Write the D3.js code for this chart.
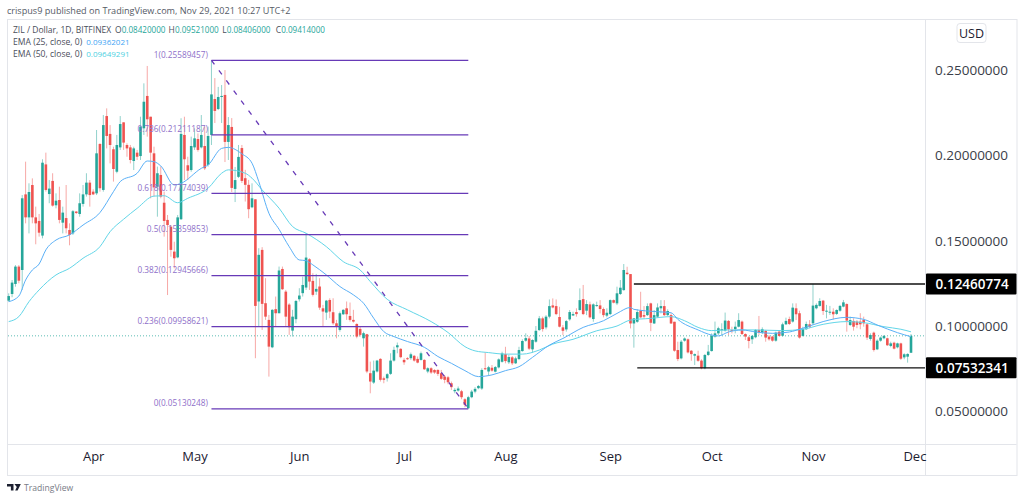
<!DOCTYPE html>
<html><head><meta charset="utf-8">
<script src="https://d3js.org/d3.v7.min.js"></script>
<style>html,body{margin:0;padding:0;background:#fff;overflow:hidden}svg{display:block}
text{font-family:"Open Sans",sans-serif}</style></head><body><svg id="c" width="1024" height="500"></svg>
<script>
const firstDay = "2021-03-07";
const opens = [
0.1148,0.1187,0.1246,0.1348,0.1328,0.1772,0.1637,0.1827,0.1637,0.1616,
0.1530,0.1948,0.1774,0.1851,0.1708,0.1739,0.1606,0.1633,0.1563,0.1543,
0.1671,0.1657,0.1716,0.1772,0.1841,0.1788,0.1778,0.2068,0.1798,0.2232,
0.2127,0.2037,0.1905,0.2048,0.2195,0.2062,0.2048,0.1968,0.2017,0.1997,
0.2160,0.2350,0.2228,0.2013,0.1817,0.1886,0.1723,0.1622,0.1582,0.1436,
0.1402,0.1626,0.2121,0.1943,0.1915,0.2048,0.2097,0.2048,0.2056,0.1945,
0.2121,0.2332,0.2273,0.2344,0.2356,0.2080,0.2168,0.1804,0.1875,0.2044,
0.1867,0.1828,0.1696,0.1743,0.1143,0.1446,0.1133,0.1035,0.0874,0.1098,
0.1074,0.1334,0.1201,0.1125,0.0972,0.1039,0.1156,0.1192,0.1225,0.1391,
0.1264,0.1201,0.1231,0.1103,0.1078,0.1152,0.1080,0.1015,0.0976,0.1068,
0.1103,0.1058,0.1035,0.1011,0.0982,0.0927,0.0951,0.0722,0.0667,0.0732,
0.0806,0.0692,0.0692,0.0718,0.0796,0.0874,0.0865,0.0800,0.0810,0.0810,
0.0824,0.0806,0.0800,0.0800,0.0732,0.0751,0.0741,0.0741,0.0722,0.0702,
0.0698,0.0663,0.0616,0.0620,0.0616,0.0569,0.0516,0.0581,0.0614,0.0634,
0.0632,0.0751,0.0732,0.0754,0.0731,0.0756,0.0789,0.0834,0.0786,0.0815,
0.0780,0.0805,0.0852,0.0913,0.0926,0.0862,0.0907,0.0975,0.1044,0.0991,
0.1054,0.1120,0.1116,0.1052,0.0991,0.0979,0.1038,0.1061,0.1081,0.1093,
0.1157,0.1089,0.1126,0.1040,0.1118,0.1120,0.1099,0.1060,0.1069,0.1151,
0.1132,0.1187,0.1210,0.1312,0.1304,0.1014,0.1024,0.1089,0.1063,0.1063,
0.1132,0.1014,0.1054,0.1103,0.1116,0.1063,0.1063,0.1024,0.0858,0.0809,
0.0913,0.0921,0.0854,0.0825,0.0825,0.0796,0.0751,0.0829,0.0852,0.0937,
0.0956,0.0976,0.0972,0.1029,0.0976,0.0980,0.0995,0.1025,0.0952,0.0933,
0.0921,0.0933,0.0976,0.0960,0.0970,0.0937,0.0937,0.0913,0.0966,0.0942,
0.1009,0.1040,0.1025,0.1103,0.1074,0.0941,0.0980,0.1009,0.1015,0.1103,
0.1117,0.1148,0.1083,0.1079,0.1083,0.1070,0.1089,0.1113,0.1128,0.1005,
0.1029,0.1025,0.1025,0.1034,0.1009,0.0923,0.0960,0.0862,0.0913,0.0927,
0.0927,0.0882,0.0901,0.0874,0.0897,0.0815,0.0819,0.0842];
const closes = [
0.1175,0.1254,0.1348,0.1265,0.1749,0.1637,0.1786,0.1637,0.1602,0.1547,
0.1958,0.1798,0.1806,0.1706,0.1735,0.1622,0.1665,0.1573,0.1534,0.1673,
0.1663,0.1720,0.1772,0.1841,0.1768,0.1772,0.2013,0.1808,0.2179,0.2115,
0.2062,0.1921,0.2062,0.2185,0.2076,0.2042,0.1974,0.2042,0.1993,0.2170,
0.2316,0.2213,0.2017,0.1813,0.1896,0.1759,0.1616,0.1592,0.1446,0.1397,
0.1637,0.2127,0.1978,0.1911,0.2056,0.2101,0.2033,0.2121,0.1925,0.2115,
0.2359,0.2262,0.2344,0.2350,0.2080,0.2179,0.1810,0.1856,0.1992,0.1851,
0.1828,0.1685,0.1749,0.1117,0.1417,0.1129,0.1054,0.0878,0.1094,0.1074,
0.1325,0.1215,0.1054,0.0992,0.1054,0.1146,0.1178,0.1240,0.1401,0.1260,
0.1182,0.1217,0.1107,0.1084,0.1148,0.1084,0.1015,0.0996,0.1074,0.1094,
0.1068,0.1035,0.1025,0.0937,0.0947,0.0957,0.0732,0.0673,0.0737,0.0796,
0.0683,0.0683,0.0716,0.0796,0.0859,0.0886,0.0816,0.0786,0.0804,0.0833,
0.0796,0.0784,0.0839,0.0745,0.0751,0.0726,0.0726,0.0718,0.0689,0.0683,
0.0669,0.0640,0.0624,0.0632,0.0581,0.0536,0.0581,0.0614,0.0630,0.0647,
0.0741,0.0747,0.0757,0.0737,0.0758,0.0803,0.0838,0.0793,0.0817,0.0780,
0.0809,0.0858,0.0911,0.0928,0.0866,0.0917,0.0971,0.1044,0.0981,0.1054,
0.1116,0.1108,0.1069,0.0995,0.0971,0.1028,0.1081,0.1069,0.1069,0.1151,
0.1069,0.1128,0.1050,0.1126,0.1122,0.1099,0.1063,0.1077,0.1151,0.1136,
0.1191,0.1224,0.1328,0.1304,0.1014,0.1044,0.1081,0.1050,0.1054,0.1116,
0.1018,0.1063,0.1108,0.1116,0.1063,0.1087,0.1014,0.0854,0.0805,0.0907,
0.0926,0.0844,0.0834,0.0834,0.0795,0.0751,0.0829,0.0849,0.0942,0.0956,
0.0986,0.0980,0.1031,0.0980,0.0970,0.0995,0.1034,0.0952,0.0937,0.0911,
0.0941,0.0976,0.0960,0.0980,0.0931,0.0921,0.0913,0.0960,0.0941,0.1009,
0.1029,0.1011,0.1107,0.1068,0.0931,0.0982,0.1011,0.0995,0.1119,0.1123,
0.1146,0.1087,0.1089,0.1083,0.1068,0.1093,0.1117,0.1138,0.1031,0.1034,
0.0995,0.1005,0.1009,0.1015,0.0931,0.0946,0.0858,0.0913,0.0931,0.0941,
0.0886,0.0897,0.0866,0.0897,0.0807,0.0833,0.0835,0.09414];
const highs = [
0.1191,0.1269,0.1357,0.1357,0.1768,0.1964,0.1837,0.1866,0.1700,0.1657,
0.1978,0.2017,0.1856,0.1896,0.1778,0.1817,0.1700,0.1827,0.1602,0.1680,
0.1674,0.1778,0.1827,0.1896,0.1856,0.1802,0.2150,0.2072,0.2238,0.2277,
0.2179,0.2052,0.2121,0.2232,0.2195,0.2072,0.2062,0.2052,0.2033,0.2228,
0.2424,0.2526,0.2228,0.2052,0.1935,0.1935,0.1788,0.1651,0.1592,0.1494,
0.1651,0.2219,0.2228,0.1993,0.2111,0.2160,0.2130,0.2238,0.2170,0.2170,
0.2559,0.2455,0.2403,0.2414,0.2502,0.2226,0.2220,0.1933,0.2062,0.2062,
0.1916,0.1857,0.1837,0.1743,0.1456,0.1462,0.1280,0.1064,0.1098,0.1172,
0.1348,0.1348,0.1211,0.1133,0.1094,0.1152,0.1221,0.1289,0.1544,0.1397,
0.1309,0.1305,0.1280,0.1123,0.1152,0.1162,0.1162,0.1035,0.1084,0.1098,
0.1143,0.1137,0.1094,0.1015,0.0996,0.0966,0.0953,0.0790,0.0796,0.0800,
0.0810,0.0702,0.0722,0.0839,0.0878,0.0902,0.0869,0.0810,0.0816,0.0843,
0.0829,0.0820,0.0849,0.0804,0.0757,0.0757,0.0745,0.0745,0.0741,0.0712,
0.0706,0.0673,0.0634,0.0644,0.0624,0.0575,0.0589,0.0624,0.0640,0.0653,
0.0751,0.0845,0.0765,0.0770,0.0764,0.0809,0.0848,0.0877,0.0829,0.0823,
0.0819,0.0877,0.0921,0.0956,0.0940,0.0921,0.0999,0.1058,0.1054,0.1063,
0.1155,0.1161,0.1155,0.1112,0.1005,0.1034,0.1093,0.1083,0.1103,0.1220,
0.1240,0.1151,0.1142,0.1132,0.1142,0.1151,0.1108,0.1103,0.1155,0.1155,
0.1230,0.1269,0.1363,0.1347,0.1304,0.1044,0.1097,0.1200,0.1116,0.1132,
0.1136,0.1093,0.1132,0.1151,0.1151,0.1097,0.1073,0.1024,0.0907,0.0917,
0.0932,0.0926,0.0858,0.0838,0.0854,0.0804,0.0835,0.0888,0.0956,0.1025,
0.0995,0.1015,0.1078,0.1034,0.0995,0.1025,0.1074,0.1031,0.0956,0.0941,
0.0946,0.0980,0.1058,0.0991,0.0976,0.0946,0.0941,0.0966,0.0972,0.1019,
0.1048,0.1054,0.1132,0.1132,0.1089,0.0995,0.1025,0.1034,0.1246,0.1132,
0.1162,0.1152,0.1123,0.1117,0.1103,0.1097,0.1123,0.1152,0.1132,0.1054,
0.1044,0.1034,0.1074,0.1054,0.1015,0.0956,0.0966,0.0921,0.0937,0.0946,
0.0931,0.0907,0.0907,0.0901,0.0901,0.0839,0.0839,0.09521];
const lows = [
0.1142,0.1168,0.1230,0.1250,0.1211,0.1602,0.1543,0.1602,0.1479,0.1524,
0.1514,0.1788,0.1720,0.1700,0.1690,0.1602,0.1543,0.1543,0.1473,0.1534,
0.1657,0.1641,0.1700,0.1759,0.1700,0.1768,0.1768,0.1788,0.1788,0.2042,
0.1954,0.1847,0.1896,0.2033,0.2033,0.1993,0.1954,0.1915,0.1974,0.1974,
0.2121,0.2111,0.1749,0.1759,0.1641,0.1749,0.1524,0.1181,0.1406,0.1338,
0.1397,0.1622,0.1856,0.1856,0.1905,0.2033,0.2023,0.2042,0.1915,0.1935,
0.2062,0.2191,0.2267,0.2191,0.1962,0.1974,0.1786,0.1727,0.1868,0.1839,
0.1730,0.1632,0.1691,0.0810,0.0996,0.0976,0.1035,0.0702,0.0869,0.0996,
0.1074,0.1211,0.0996,0.0947,0.0937,0.1015,0.1143,0.1172,0.1211,0.1211,
0.1172,0.1182,0.1094,0.0996,0.1035,0.1045,0.1006,0.0927,0.0966,0.1064,
0.1035,0.1025,0.1019,0.0927,0.0937,0.0878,0.0722,0.0604,0.0659,0.0726,
0.0673,0.0663,0.0673,0.0712,0.0790,0.0839,0.0810,0.0771,0.0800,0.0800,
0.0790,0.0780,0.0796,0.0741,0.0722,0.0718,0.0718,0.0706,0.0683,0.0663,
0.0657,0.0624,0.0604,0.0614,0.0569,0.0522,0.0513,0.0575,0.0604,0.0628,
0.0624,0.0741,0.0706,0.0731,0.0727,0.0750,0.0784,0.0780,0.0776,0.0770,
0.0776,0.0799,0.0848,0.0907,0.0858,0.0842,0.0901,0.0971,0.0966,0.0979,
0.1044,0.1103,0.1063,0.0991,0.0946,0.0966,0.1030,0.1058,0.1054,0.1089,
0.1063,0.1063,0.1044,0.1024,0.1112,0.1073,0.1050,0.1050,0.1063,0.1132,
0.1122,0.1181,0.1206,0.1298,0.0985,0.0872,0.1018,0.1044,0.1044,0.1058,
0.0969,0.1011,0.1048,0.1073,0.1058,0.1058,0.1011,0.0848,0.0793,0.0803,
0.0907,0.0838,0.0795,0.0770,0.0789,0.0745,0.0745,0.0823,0.0849,0.0931,
0.0946,0.0946,0.0966,0.0946,0.0956,0.0956,0.0991,0.0946,0.0917,0.0868,
0.0894,0.0927,0.0946,0.0952,0.0907,0.0913,0.0907,0.0907,0.0937,0.0937,
0.1005,0.1005,0.1019,0.1034,0.0925,0.0937,0.0976,0.0986,0.1005,0.1097,
0.1113,0.1064,0.1044,0.1064,0.1038,0.1064,0.1083,0.1109,0.0966,0.0999,
0.0972,0.0986,0.0980,0.0995,0.0917,0.0913,0.0849,0.0858,0.0907,0.0921,
0.0882,0.0874,0.0862,0.0868,0.0800,0.0804,0.0784,0.08406];

const ema25Days = [0,3,5,7,9,11,14,18,22,27,31,33,38,41,43,45,49,51,57,59,63,65,69,72,74,77,80,83,86,88,90,94,98,102,105,108,111,114,118,123,127,131,135,139,143,147,151,155,160,164,170,176,180,184,185,192,196,198,204,208,210,213,217,221,226,231,235,241,248,253,257,263,267];
const ema25Values = [0.1142,0.1175,0.1269,0.1328,0.1363,0.1446,0.1504,0.1534,0.1592,0.1665,0.1788,0.1847,0.1896,0.1968,0.1964,0.1939,0.1827,0.1837,0.1925,0.1945,0.2042,0.2048,0.2010,0.1955,0.1847,0.1661,0.1567,0.1465,0.1387,0.1383,0.1358,0.1299,0.1231,0.1182,0.1133,0.1045,0.0966,0.0937,0.0908,0.0874,0.0820,0.0780,0.0737,0.0702,0.0712,0.0737,0.0760,0.0815,0.0887,0.0926,0.0991,0.1030,0.1073,0.1108,0.1097,0.1083,0.1077,0.1038,0.0976,0.0946,0.0941,0.0964,0.0976,0.0964,0.0956,0.0964,0.0986,0.1025,0.1050,0.1038,0.1005,0.0960,0.09362];
const ema50Days = [0,3,6,9,14,18,22,27,30,34,38,43,46,50,53,59,63,65,70,72,75,80,84,88,94,99,104,107,112,118,125,130,135,138,142,147,152,157,161,167,174,180,184,190,196,200,204,208,213,221,229,235,241,248,253,259,264,267];
const ema50Values = [0.1025,0.1054,0.1142,0.1211,0.1299,0.1338,0.1397,0.1465,0.1553,0.1626,0.1690,0.1762,0.1764,0.1723,0.1749,0.1808,0.1896,0.1916,0.1896,0.1867,0.1798,0.1691,0.1583,0.1544,0.1465,0.1377,0.1328,0.1260,0.1156,0.1094,0.1025,0.0961,0.0878,0.0853,0.0843,0.0834,0.0834,0.0858,0.0893,0.0921,0.0971,0.0999,0.1034,0.1044,0.1054,0.1030,0.0991,0.0972,0.0976,0.0976,0.0972,0.0980,0.1009,0.1025,0.1019,0.0995,0.0980,0.09649];

const fibLevels = [1,0.786,0.618,0.5,0.382,0.236,0];
const fibPrices = [0.25589457,0.21211187,0.17774039,0.15359853,0.12945666,0.09958621,0.05130248];
const fibFromDay = 60, fibToDay = 136;
const rangePrices = [0.12460774,0.07532341];
const rangeFromDays = [185,186];
const priceTicks = [0.05,0.10,0.15,0.20,0.25];
const monthTicks = ["2021-04-01","2021-05-01","2021-06-01","2021-07-02","2021-08-01","2021-09-01","2021-10-01","2021-10-31","2021-11-30"];
const monthLabels = ["Apr","May","Jun","Jul","Aug","Sep","Oct","Nov","Dec"];
const legendValues = ["0.08420000","0.09521000","0.08406000","0.09414000"];
const legendKeys = ["O","H","L","C"];
const emaLegend = [["EMA (25, close, 0)","0.09362021"],["EMA (50, close, 0)","0.09649291"]];

const svg = d3.select("#c");
const dayMs = 864e5, t0 = Date.parse(firstDay+"T00:00:00Z");
const dateOf = i => new Date(t0+i*dayMs);
const x = d3.scaleUtc().domain([dateOf(0),dateOf(opens.length-1)]).range([8.7,911]);
const y = d3.scaleLinear().domain([0.05,0.25]).range([411,70.4]);
const up="#26a69a",dn="#ef5350",purple="#673ab7";
const px=925, paneRight=1016.5, paneBottom=475, paneTop=19, paneLeft=7, axisY=444;

// frame
const f=svg.append("g").attr("fill","none").attr("stroke","#e3e5ea").attr("stroke-width",1);
f.append("rect").attr("x",paneLeft+.5).attr("y",paneTop+.5).attr("width",paneRight-paneLeft).attr("height",paneBottom-paneTop);
f.append("line").attr("x1",px+.5).attr("x2",px+.5).attr("y1",paneTop).attr("y2",paneBottom);
f.append("line").attr("x1",paneLeft).attr("x2",paneRight).attr("y1",axisY+.5).attr("y2",axisY+.5);

// last price
svg.append("line").attr("x1",paneLeft+1).attr("x2",px).attr("y1",y(closes[closes.length-1])).attr("y2",y(closes[closes.length-1]))
 .attr("stroke",up).attr("stroke-width",1).attr("stroke-dasharray","1 2").attr("opacity",.75);

// candles
const idx=d3.range(opens.length);
const g=svg.append("g");
g.selectAll(".w").data(idx).join("line").attr("class","w")
 .attr("x1",i=>x(dateOf(i))).attr("x2",i=>x(dateOf(i))).attr("y1",i=>y(highs[i])).attr("y2",i=>y(lows[i]))
 .attr("stroke",i=>closes[i]>=opens[i]?up:dn).attr("stroke-width",1).attr("stroke-opacity",.5);
g.selectAll(".b").data(idx).join("rect").attr("class","b")
 .attr("x",i=>x(dateOf(i))-1.3).attr("width",2.6)
 .attr("y",i=>y(Math.max(opens[i],closes[i])))
 .attr("height",i=>Math.max(1,Math.abs(y(opens[i])-y(closes[i]))))
 .attr("fill",i=>closes[i]>=opens[i]?up:dn);

// EMA
const line=d3.line().curve(d3.curveMonotoneX);
const emaPath=(days,vals,col)=>svg.append("path").attr("fill","none").attr("stroke",col).attr("stroke-width",1)
 .attr("d",line(days.map((d,k)=>[x(dateOf(d)),y(vals[k])])));
emaPath(ema50Days,ema50Values,"#62d6e8");
emaPath(ema25Days,ema25Values,"#5ab0f7");

// fib
const fg=svg.append("g");
fg.selectAll("line").data(fibPrices).join("line")
 .attr("x1",x(dateOf(fibFromDay))).attr("x2",x(dateOf(fibToDay))).attr("y1",d=>y(d)).attr("y2",d=>y(d))
 .attr("stroke",purple).attr("stroke-width",1.3);
fg.selectAll("text").data(fibPrices).join("text")
 .attr("x",x(dateOf(fibFromDay))-3.5).attr("y",d=>y(d)-2.5).attr("text-anchor","end")
 .attr("font-size",8.25).attr("fill","#8e6fc9")
 .text((d,k)=>fibLevels[k]+"("+d.toFixed(8)+")");
svg.append("line").attr("x1",x(dateOf(fibFromDay))).attr("y1",y(fibPrices[0]))
 .attr("x2",x(dateOf(fibToDay))).attr("y2",y(fibPrices[fibPrices.length-1]))
 .attr("stroke",purple).attr("stroke-width",1.3).attr("stroke-dasharray","5 7.5");

// horizontal range
svg.append("g").selectAll("line").data(rangePrices).join("line")
 .attr("x1",(d,k)=>x(dateOf(rangeFromDays[k]))).attr("x2",px)
 .attr("y1",d=>y(d)).attr("y2",d=>y(d)).attr("stroke","#111").attr("stroke-width",1.4);

// axes
const ya=svg.append("g").attr("transform",`translate(${px},0)`)
 .call(d3.axisRight(y).tickValues(priceTicks).tickSize(0).tickPadding(10).tickFormat(d3.format(".8f")));
ya.select(".domain").remove();
ya.selectAll("text").attr("font-size",13.5).attr("fill","#3a3e48").style("font-family",'"Open Sans",sans-serif');
const xa=svg.append("g").attr("transform",`translate(0,${axisY})`)
 .call(d3.axisBottom(x).tickValues(monthTicks.map(s=>new Date(s+"T00:00:00Z"))).tickSize(0).tickPadding(8).tickFormat((d,i)=>monthLabels[i]));
xa.select(".domain").remove();
xa.selectAll("text").attr("font-size",13).attr("fill","#1c2030").style("font-family",'"Open Sans",sans-serif');

// price badges
rangePrices.forEach(p=>{
 svg.append("rect").attr("x",px+1).attr("y",y(p)-10.5).attr("width",paneRight-px-1).attr("height",21).attr("fill","#000").attr("rx",1);
 svg.append("text").attr("x",px+10.5).attr("y",y(p)+4.8).attr("font-size",13.5).attr("font-weight",600).attr("fill","#fff").text(p.toFixed(8));
});

// USD
svg.append("rect").attr("x",957).attr("y",23.5).attr("width",29).attr("height",19).attr("rx",3).attr("fill","#fff").attr("stroke","#e3e5ea");
svg.append("text").attr("x",971.5).attr("y",37.5).attr("text-anchor","middle").attr("font-size",12.5).attr("fill","#1c2030").text("USD");

// header
svg.append("text").attr("x",7).attr("y",14).attr("font-size",9.1).attr("fill","#555a66").text("crispus9 published on TradingView.com, Nov 29, 2021 10:27 UTC+2");
const lg=svg.append("text").attr("x",13).attr("y",33).attr("font-size",8.5).attr("fill","#4a4e5a");
lg.append("tspan").text("ZIL / Dollar, 1D, BITFINEX");
legendKeys.forEach((k,j)=>{
 lg.append("tspan").attr("x",115+j*53.6).text(k);
 lg.append("tspan").attr("fill",up).attr("font-size",8.1).text(legendValues[j]);
});
emaLegend.forEach((e,j)=>{
 svg.append("text").attr("x",13).attr("y",45.3+j*12).attr("font-size",8.6).attr("fill","#4a4e5a").text(e[0]);
 svg.append("text").attr("x",86.3).attr("y",45.3+j*12).attr("font-size",8).attr("fill",j?"#4dd0e1":"#42a5f5").text(e[1]);
});

// footer logo
const lgG=svg.append("g").attr("fill","#1c2030");
lgG.append("path").attr("d","M7 484h6.5v6.5h-2.6v-4h-3.9zM14.4 484h6.4l-3.2 6.5h-2.4l1.6-3.5z");
svg.append("text").attr("x",24).attr("y",491).attr("font-size",8.6).attr("fill","#787b86").text("TradingView");
</script></body></html>
